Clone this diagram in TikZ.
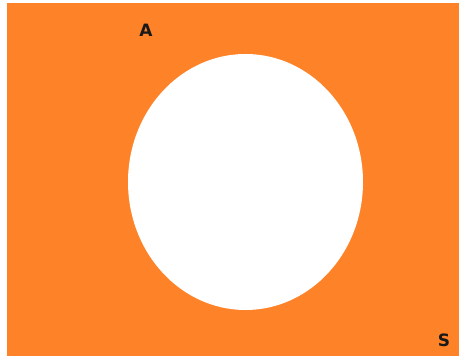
\documentclass[tikz,border=0pt]{standalone}
\usepackage{fontspec}
\setsansfont{DejaVu Sans}
\usetikzlibrary{positioning}
\definecolor{setorange}{RGB}{254,130,40}

\begin{document}
\begin{tikzpicture}[x=1pt, y=1pt, lbl/.style={font=\sffamily\bfseries\fontsize{17}{17}\selectfont, text=black!90, inner sep=0pt}]
    % Rahmen (weisser Rand links und oben)
    \useasboundingbox (0,0) rectangle (459,356);
    \fill[white] (0,0) rectangle (459,356);

    % Grundmenge S
    \fill[setorange] (7,0) rectangle (459,353);

    % Menge A (weisse Ellipse)
    \coordinate (mitte) at (245.5,174);
    \fill[white] (mitte) ellipse [x radius=117.5, y radius=128];

    % Beschriftungen
    \node[lbl] (labelA) at (146,326) {A};
    \node[lbl] (labelS) at (444,16) {S};
\end{tikzpicture}
\end{document}
